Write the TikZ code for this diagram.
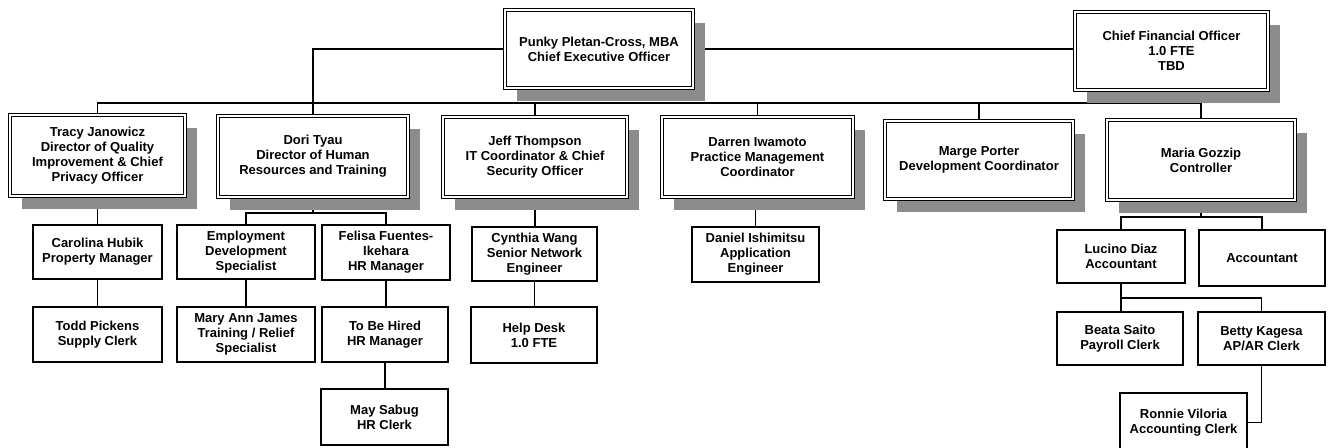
\documentclass[tikz,border=0pt]{standalone}
\usepackage{fontspec}
\setmainfont{Liberation Sans}
\usetikzlibrary{shadows,backgrounds,calc}
\begin{document}
\begin{tikzpicture}[x=1pt,y=-1pt,
  every node/.style={font=\bfseries\fontsize{13}{15}\selectfont, align=center, inner sep=0pt},
  dirbox/.style={draw, double, double distance=2.2pt, line width=0.8pt, fill=white,
     drop shadow={shadow xshift=12pt, shadow yshift=-13pt, fill=black!45, opacity=1}},
  subbox/.style={draw, line width=1.1pt, fill=white},
  conn/.style={line width=1.1pt}]
\useasboundingbox (0,0) rectangle (1329,447);
\clip (0,0) rectangle (1329,447);
% top
\node[dirbox, minimum width=188pt, minimum height=78pt] (ceo) at (599,49) {Punky Pletan-Cross, MBA\\Chief Executive Officer};
\node[dirbox, minimum width=193pt, minimum height=78pt] (cfo) at (1171.5,51) {Chief Financial Officer\\1.0 FTE\\TBD};
% directors
\node[dirbox, minimum width=175pt, minimum height=81pt] (tracy) at (97.5,155.5) {Tracy Janowicz\\Director of Quality\\Improvement \& Chief\\Privacy Officer};
\node[dirbox, minimum width=190pt, minimum height=81pt] (dori) at (313,156.5) {Dori Tyau\\Director of Human\\Resources and Training};
\node[dirbox, minimum width=184pt, minimum height=80pt] (jeff) at (535,157) {Jeff Thompson\\IT Coordinator \& Chief\\Security Officer};
\node[dirbox, minimum width=191pt, minimum height=80pt] (darren) at (757.5,157) {Darren Iwamoto\\Practice Management\\Coordinator};
\node[dirbox, minimum width=188pt, minimum height=78pt] (marge) at (979,160) {Marge Porter\\Development Coordinator};
\node[dirbox, minimum width=188pt, minimum height=80pt] (maria) at (1201,160) {Maria Gozzip\\Controller};
% subordinates
\node[subbox, minimum width=129pt, minimum height=54pt] (carolina) at (97.5,252) {Carolina Hubik\\Property Manager};
\node[subbox, minimum width=129pt, minimum height=55pt] (todd) at (97.5,334.5) {Todd Pickens\\Supply Clerk};
\node[subbox, minimum width=138pt, minimum height=54pt] (emp) at (246,252) {Employment\\Development\\Specialist};
\node[subbox, minimum width=138pt, minimum height=55pt] (maryann) at (246,334.5) {Mary Ann James\\Training / Relief\\Specialist};
\node[subbox, minimum width=128pt, minimum height=55pt] (felisa) at (386,252.5) {Felisa Fuentes-\\Ikehara\\HR Manager};
\node[subbox, minimum width=126pt, minimum height=55pt] (tobe) at (385,334.5) {To Be Hired\\HR Manager};
\node[subbox, minimum width=127pt, minimum height=56pt] (may) at (384.5,417) {May Sabug\\HR Clerk};
\node[subbox, minimum width=125pt, minimum height=54pt] (cynthia) at (534.5,254) {Cynthia Wang\\Senior Network\\Engineer};
\node[subbox, minimum width=126pt, minimum height=56pt] (help) at (534,335) {Help Desk\\1.0 FTE};
\node[subbox, minimum width=127pt, minimum height=55pt] (daniel) at (755.5,254.5) {Daniel Ishimitsu\\Application\\Engineer};
\node[subbox, minimum width=128pt, minimum height=53pt] (lucino) at (1121,256.5) {Lucino Diaz\\Accountant};
\node[subbox, minimum width=126pt, minimum height=56pt] (acct) at (1262,258) {Accountant};
\node[subbox, minimum width=126pt, minimum height=53pt] (beata) at (1120,338.5) {Beata Saito\\Payroll Clerk};
\node[subbox, minimum width=127pt, minimum height=53pt] (betty) at (1261.5,338.5) {Betty Kagesa\\AP/AR Clerk};
\node[subbox, minimum width=127pt, minimum height=59pt] (ronnie) at (1183.5,422.5) {Ronnie Viloria\\Accounting Clerk};
% bus coordinates
\coordinate (topbus) at (0,103);
\coordinate (dbus) at (313,213);
\coordinate (mbus) at (1201,217);
\coordinate (lbus) at (1121,298);
\begin{scope}[on background layer]
\draw[conn] (ceo.west) -| (dori.north);
\draw[conn] (ceo.east) -- (ceo.east -| cfo.west);
\draw[conn] (tracy.north) |- (topbus -| maria.north) -- (maria.north);
\draw[conn] (jeff.north |- topbus) -- (jeff.north);
\draw[conn] (darren.north |- topbus) -- (darren.north);
\draw[conn] (marge.north |- topbus) -- (marge.north);
\draw[conn] (tracy.south) -- (carolina.north);
\draw[conn] (carolina.south) -- (todd.north);
\draw[conn] (dori.south) -- (dbus);
\draw[conn] (emp.north) |- (dbus) -| (felisa.north);
\draw[conn] (emp.south) -- (maryann.north);
\draw[conn] (felisa.south) -- (felisa.south |- tobe.north);
\draw[conn] (tobe.south) -- (tobe.south |- may.north);
\draw[conn] (jeff.south) -- (jeff.south |- cynthia.north);
\draw[conn] (cynthia.south) -- (cynthia.south |- help.north);
\draw[conn] (daniel.north |- darren.south) -- (daniel.north);
\draw[conn] (maria.south) -- (mbus);
\draw[conn] (lucino.north) |- (mbus) -| (acct.north);
\draw[conn] (lucino.south) -- (lucino.south |- beata.north);
\draw[conn] (lbus) -| (betty.north);
\draw[conn] (betty.south) |- (ronnie.east);
\end{scope}
\end{tikzpicture}
\end{document}
